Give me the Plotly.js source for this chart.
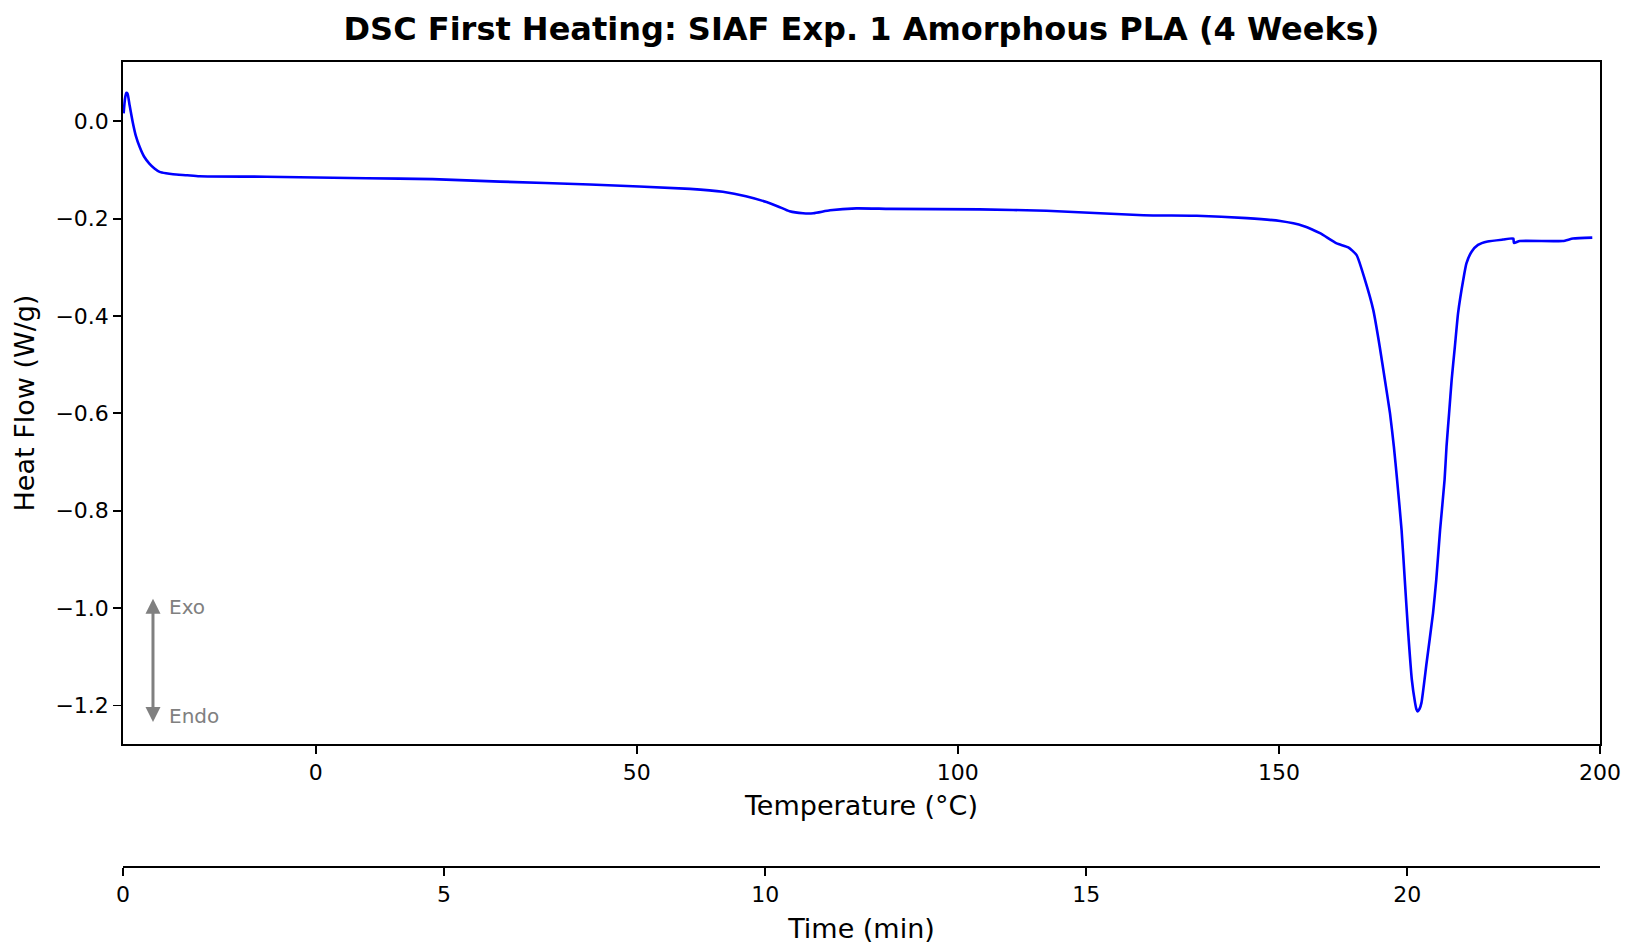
<!DOCTYPE html>
<html>
<head>
<meta charset="utf-8">
<script src="https://cdn.plot.ly/plotly-3.0.1.min.js"></script>
<style>
  html, body { margin: 0; padding: 0; background: #fff; }
  #chart { width: 1627px; height: 944px; }
</style>
</head>
<body>
<div id="chart"></div>
<script>
// Temperature (°C)
const temperature = [
  -29.9, -29.7, -29.5, -29.3, -29.0, -28.5, -28.0, -27.4, -26.7, -25.9,
  -25.1, -24.3, -23.3, -22.2, -20.0, -18.1, -7.7, 7.9, 18.2, 28.7, 42.7, 58.3,
  63.4, 67.0, 70.2, 72.0, 73.8, 75.9, 77.5, 80.1, 84.2, 89.4,
  103.4, 113.8, 128.9, 137.2, 145.0, 150.2, 153.8, 156.4, 159.0, 160.8,
  162.1, 163.4, 164.7, 165.7, 166.5, 167.3, 167.9, 168.4, 169.1, 169.6,
  170.1, 170.7, 171.2, 171.4, 171.6, 171.9, 172.2, 173.0, 174.0, 174.5,
  175.1, 175.8, 176.1, 176.5, 176.9, 177.4, 177.9, 178.7, 179.2, 180.0,
  181.0, 182.5, 184.9, 186.5, 186.6, 187.5, 194.2, 195.8, 198.8
];
// Heat flow (W/g)
const heatFlow = [
  0.016, 0.045, 0.058, 0.057, 0.035, -0.001, -0.030, -0.053, -0.073, -0.087,
  -0.097, -0.104, -0.107, -0.109, -0.111, -0.113, -0.114, -0.117, -0.119, -0.124, -0.130, -0.139,
  -0.145, -0.154, -0.166, -0.175, -0.185, -0.189, -0.189, -0.183, -0.179, -0.180,
  -0.181, -0.184, -0.193, -0.194, -0.199, -0.205, -0.215, -0.230, -0.251, -0.259,
  -0.275, -0.326, -0.388, -0.463, -0.531, -0.600, -0.668, -0.736, -0.839, -0.942,
  -1.044, -1.147, -1.194, -1.207, -1.212, -1.207, -1.194, -1.112, -1.010, -0.942,
  -0.839, -0.736, -0.668, -0.600, -0.531, -0.463, -0.394, -0.326, -0.292, -0.268,
  -0.254, -0.247, -0.243, -0.241, -0.250, -0.246, -0.246, -0.241, -0.239
];
// Tick values
const tempTicks = [0, 50, 100, 150, 200];
const timeTicks = [0, 5, 10, 15, 20];
const hfTicks = [0.0, -0.2, -0.4, -0.6, -0.8, -1.0, -1.2];

const FONT = "DejaVu Sans";

const traces = [
  {
    x: temperature, y: heatFlow, type: "scatter", mode: "lines",
    line: { color: "#0000ff", width: 2.6, shape: "spline", smoothing: 0.5 },
    xaxis: "x", yaxis: "y", showlegend: false, hoverinfo: "x+y"
  },
  {
    x: timeTicks, y: timeTicks.map(() => null), type: "scatter", mode: "lines",
    xaxis: "x2", yaxis: "y", showlegend: false, hoverinfo: "skip"
  }
];

const axisCommon = {
  showgrid: false, zeroline: false, showline: true,
  linecolor: "#000", linewidth: 1.8,
  ticks: "outside", ticklen: 8, tickwidth: 1.8, tickcolor: "#000",
  tickfont: { family: FONT, size: 22, color: "#000" }
};

const layout = {
  width: 1627, height: 944,
  margin: { l: 123, r: 27, t: 62, b: 78 },
  paper_bgcolor: "#fff", plot_bgcolor: "#fff",
  font: { family: FONT, color: "#000" },
  title: {
    text: "<b>DSC First Heating: SIAF Exp. 1 Amorphous PLA (4 Weeks)</b>",
    font: { family: FONT, size: 32, color: "#000" },
    x: 0.5, xref: "paper", xanchor: "center",
    y: 1 - 29 / 944, yref: "container", yanchor: "middle"
  },
  xaxis: Object.assign({}, axisCommon, {
    range: [-30, 200], tickmode: "array", tickvals: tempTicks,
    mirror: true, anchor: "y",
    title: { text: "Temperature (°C)", font: { family: FONT, size: 27, color: "#000" }, standoff: 12 }
  }),
  xaxis2: Object.assign({}, axisCommon, {
    range: [0, 23], tickmode: "array", tickvals: timeTicks,
    overlaying: "x", anchor: "free", position: 0, side: "bottom",
    title: { text: "Time (min)", font: { family: FONT, size: 27, color: "#000" }, standoff: 14 }
  }),
  yaxis: Object.assign({}, axisCommon, {
    range: [-1.279, 0.1216], domain: [0.1517, 1],
    tickmode: "array", tickvals: hfTicks, tickformat: ".1f",
    mirror: true,
    title: { text: "Heat Flow (W/g)", font: { family: FONT, size: 27, color: "#000" }, standoff: 13 }
  }),
  annotations: [
    {
      xref: "x domain", yref: "y domain", axref: "x domain", ayref: "y domain",
      x: 0.0203, y: 0.213, ax: 0.0203, ay: 0.030,
      text: "", showarrow: true, arrowside: "end+start",
      arrowhead: 2, startarrowhead: 2, arrowsize: 1, startarrowsize: 1,
      arrowwidth: 3, arrowcolor: "#808080", standoff: 0, startstandoff: 0
    },
    {
      xref: "x domain", yref: "y domain", x: 0.030, y: 0.201,
      xanchor: "left", yanchor: "middle", showarrow: false,
      text: "Exo", font: { family: FONT, size: 20, color: "#808080" }
    },
    {
      xref: "x domain", yref: "y domain", x: 0.030, y: 0.041,
      xanchor: "left", yanchor: "middle", showarrow: false,
      text: "Endo", font: { family: FONT, size: 20, color: "#808080" }
    }
  ]
};

Plotly.newPlot("chart", traces, layout, { staticPlot: true, displayModeBar: false });
</script>
</body>
</html>
